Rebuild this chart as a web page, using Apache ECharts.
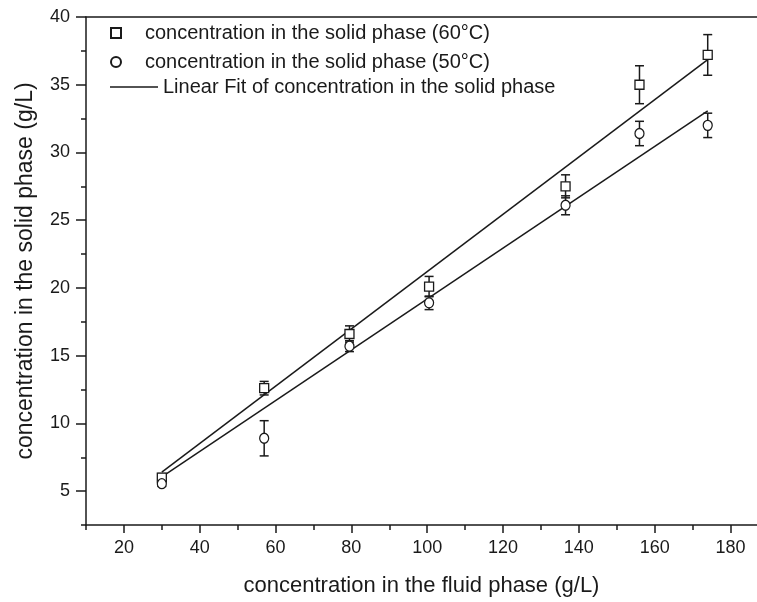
<!DOCTYPE html>
<html><head><meta charset="utf-8">
<script src="https://cdn.jsdelivr.net/npm/echarts@6/dist/echarts.min.js"></script>
<style>html,body{margin:0;padding:0;background:#fff}#c{width:757px;height:602px}</style>
</head><body><div id="c"></div>
<script>
// ---- data ----
const xVals = [30, 57, 79.5, 100.5, 136.5, 156, 174];
const y60 = [6.0, 12.6, 16.6, 20.1, 27.5, 35.0, 37.2];
const err60 = [0.3, 0.5, 0.6, 0.75, 0.85, 1.4, 1.5];
const y50 = [5.55, 8.9, 15.7, 18.9, 26.1, 31.4, 32.0];
const err50 = [0.2, 1.3, 0.4, 0.5, 0.7, 0.9, 0.9];
const fitX = [30, 174];
const fit60Y = [6.4, 36.85];
const fit50Y = [6.05, 33.07];
const xMajor = [20, 40, 60, 80, 100, 120, 140, 160, 180];
const xMinor = [10, 30, 50, 70, 90, 110, 130, 150, 170];
const yMajor = [5, 10, 15, 20, 25, 30, 35, 40];
const yMinor = [2.5, 7.5, 12.5, 17.5, 22.5, 27.5, 32.5, 37.5];
const name60 = 'concentration in the solid phase (60°C)';
const name50 = 'concentration in the solid phase (50°C)';
const nameFit = 'Linear Fit of concentration in the solid phase';

const FONT = 'Liberation Sans, Arial, sans-serif';
const INK = '#1a1a1a';

function zip(a, b, c) { return a.map((v, i) => c ? [v, b[i], c[i]] : [v, b[i]]); }

function errRender(params, api) {
  const x = api.value(0), y = api.value(1), e = api.value(2);
  const t = api.coord([x, y + e]), b = api.coord([x, y - e]);
  const hw = 4.5;
  const st = { stroke: INK, lineWidth: 1.5, fill: null };
  return { type: 'group', children: [
    { type: 'line', shape: { x1: t[0], y1: t[1], x2: b[0], y2: b[1] }, style: st },
    { type: 'line', shape: { x1: t[0] - hw, y1: t[1], x2: t[0] + hw, y2: t[1] }, style: st },
    { type: 'line', shape: { x1: b[0] - hw, y1: b[1], x2: b[0] + hw, y2: b[1] }, style: st }
  ]};
}

const chart = echarts.init(document.getElementById('c'), null, { renderer: 'canvas' });
const axisLine = { show: true, lineStyle: { color: INK, width: 1.5 } };
const legText = { fontFamily: FONT, fontSize: 20, color: INK };
const legBase = { left: 105, itemWidth: 48, itemHeight: 10, textStyle: legText, selectedMode: false, symbolKeepAspect: true };
chart.setOption({
  animation: false,
  backgroundColor: '#fff',
  textStyle: { fontFamily: FONT },
  grid: { left: 86, right: 0, top: 17, bottom: 77, containLabel: false },
  legend: [
    Object.assign({}, legBase, { top: 18,
      data: [{ name: name60, icon: 'path://M0,0 L10,0 L10,10 L0,10 Z' }] }),
    Object.assign({}, legBase, { top: 47,
      data: [{ name: name50, icon: 'path://M10,5 A5,5 0 1 1 0,5 A5,5 0 1 1 10,5 Z' }] }),
    Object.assign({}, legBase, { top: 72,
      data: [{ name: nameFit, icon: 'path://M0,0 L48,0 L48,1.6 L0,1.6 Z', itemStyle: { color: INK, borderWidth: 0 } }] })
  ],
  xAxis: [
    { type: 'value', position: 'bottom', min: 10, max: 187,
      name: 'concentration in the fluid phase (g/L)', nameLocation: 'middle', nameGap: 50,
      nameTextStyle: { fontFamily: FONT, fontSize: 22, color: INK },
      axisLine: axisLine,
      axisTick: { show: true, inside: false, length: 8, customValues: xMajor, lineStyle: { color: INK, width: 1.5 } },
      axisLabel: { show: true, customValues: xMajor, fontFamily: FONT, fontSize: 18, color: INK, margin: 14 },
      splitLine: { show: false } },
    { type: 'value', position: 'bottom', min: 10, max: 187, offset: 0,
      axisLine: { show: false },
      axisTick: { show: true, inside: false, length: 5, customValues: xMinor, lineStyle: { color: INK, width: 1.5 } },
      axisLabel: { show: false }, splitLine: { show: false } },
    { type: 'value', position: 'top', min: 10, max: 187, offset: 0,
      axisLine: axisLine, axisTick: { show: false }, axisLabel: { show: false }, splitLine: { show: false } }
  ],
  yAxis: [
    { type: 'value', position: 'left', min: 2.5, max: 40,
      name: 'concentration in the solid phase (g/L)', nameLocation: 'middle', nameGap: 49,
      nameTextStyle: { fontFamily: FONT, fontSize: 23, color: INK },
      axisLine: axisLine,
      axisTick: { show: true, inside: false, length: 10, customValues: yMajor, lineStyle: { color: INK, width: 1.5 } },
      axisLabel: { show: true, customValues: yMajor, fontFamily: FONT, fontSize: 18, color: INK, margin: 16 },
      splitLine: { show: false } },
    { type: 'value', position: 'left', min: 2.5, max: 40, offset: 0,
      axisLine: { show: false },
      axisTick: { show: true, inside: false, length: 5, customValues: yMinor, lineStyle: { color: INK, width: 1.5 } },
      axisLabel: { show: false }, splitLine: { show: false } }
  ],
  series: [
    { name: nameFit, type: 'line', data: zip(fitX, fit60Y), symbol: 'none', showSymbol: false,
      lineStyle: { color: INK, width: 1.5 }, itemStyle: { color: INK }, z: 2 },
    { name: nameFit, type: 'line', data: zip(fitX, fit50Y), symbol: 'none', showSymbol: false,
      lineStyle: { color: INK, width: 1.5 }, itemStyle: { color: INK }, z: 2 },
    { type: 'custom', renderItem: errRender, data: zip(xVals, y60, err60), z: 3, silent: true },
    { type: 'custom', renderItem: errRender, data: zip(xVals, y50, err50), z: 3, silent: true },
    { name: name60, type: 'scatter', data: zip(xVals, y60), symbol: 'rect', symbolSize: [9, 9],
      itemStyle: { color: '#fff', borderColor: INK, borderWidth: 1.3, opacity: 1 }, z: 5 },
    { name: name50, type: 'scatter', data: zip(xVals, y50), symbol: 'circle', symbolSize: [9, 10],
      itemStyle: { color: '#fff', borderColor: INK, borderWidth: 1.3, opacity: 1 }, z: 5 }
  ]
});
</script></body></html>
